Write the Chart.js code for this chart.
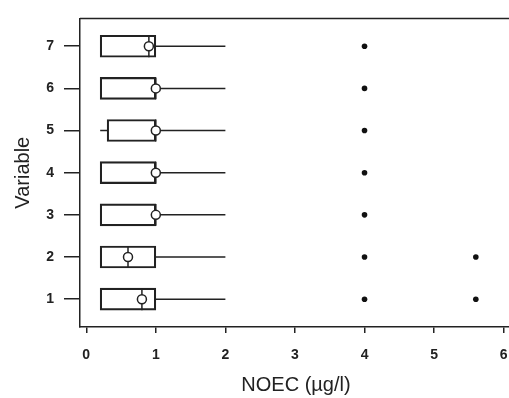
<!DOCTYPE html>
<html>
<head>
<meta charset="utf-8">
<script src="https://cdn.jsdelivr.net/npm/chart.js@4/dist/chart.umd.min.js"></script>
<style>
  html, body { margin: 0; padding: 0; background: #fff; overflow: hidden; }
  #wrap { position: absolute; left: 0; top: 0; width: 540px; height: 398px; }
</style>
</head>
<body>
<div id="wrap"><canvas id="box"></canvas></div>
<script>
// box plot values (NOEC, µg/l)
const variables = [1, 2, 3, 4, 5, 6, 7];
const whiskerLow = [0.2, 0.2, 0.2, 0.2, 0.2, 0.2, 0.2];
const q1 = [0.2, 0.2, 0.2, 0.2, 0.3, 0.2, 0.2];
const median = [0.8, 0.6, 1, 1, 1, 1, 0.9];
const q3 = [1, 1, 1, 1, 1, 1, 1];
const whiskerHigh = [2, 2, 2, 2, 2, 2, 2];
const outliers = [[4, 5.6], [4, 5.6], [4], [4], [4], [4], [4]];
const xTicks = [0, 1, 2, 3, 4, 5, 6];

const ink = '#222';
const half = 0.26; // half box height, in variable units

const whiskerPts = [];
const medianPts = [];
const outlierPts = [];
variables.forEach((v, i) => {
  whiskerPts.push({x: q3[i], y: v}, {x: whiskerHigh[i], y: v}, {x: null, y: null});
  if (whiskerLow[i] < q1[i]) {
    whiskerPts.push({x: whiskerLow[i], y: v}, {x: q1[i], y: v}, {x: null, y: null});
  }
  medianPts.push({x: median[i], y: v - half}, {x: median[i], y: v + half}, {x: null, y: null});
  outliers[i].forEach(o => outlierPts.push({x: o, y: v}));
});

const frameTop = {
  id: 'frameTop',
  afterDraw(chart) {
    const {ctx, chartArea} = chart;
    ctx.save();
    ctx.strokeStyle = ink;
    ctx.lineWidth = 1.5;
    ctx.beginPath();
    ctx.moveTo(chartArea.left, chartArea.top);
    ctx.lineTo(chartArea.right, chartArea.top);
    ctx.stroke();
    ctx.restore();
  }
};

new Chart(document.getElementById('box'), {
  type: 'line',
  data: {
    datasets: [
      {
        type: 'bar',
        indexAxis: 'y',
        data: variables.map((v, i) => ({x: [q1[i], q3[i]], y: v})),
        backgroundColor: 'rgba(255,255,255,0)',
        borderColor: ink,
        borderWidth: 1.5,
        borderSkipped: false,
        barThickness: 22,
        order: 3
      },
      {
        type: 'line',
        data: whiskerPts,
        borderColor: ink,
        borderWidth: 1.5,
        pointRadius: 0,
        spanGaps: false,
        order: 2
      },
      {
        type: 'line',
        data: medianPts,
        borderColor: ink,
        borderWidth: 1.5,
        pointRadius: 0,
        spanGaps: false,
        order: 2
      },
      {
        type: 'scatter',
        data: variables.map((v, i) => ({x: median[i], y: v})),
        pointRadius: 4.5,
        pointBackgroundColor: '#fff',
        pointBorderColor: ink,
        pointBorderWidth: 1.5,
        order: 1
      },
      {
        type: 'scatter',
        data: outlierPts,
        pointRadius: 2.8,
        pointBackgroundColor: '#111',
        pointBorderColor: '#111',
        pointBorderWidth: 0,
        order: 1
      }
    ]
  },
  options: {
    responsive: true,
    maintainAspectRatio: false,
    animation: false,
    layout: { padding: { left: 0, top: 17, right: 28, bottom: 0 } },
    plugins: { legend: { display: false }, tooltip: { enabled: false } },
    scales: {
      x: {
        type: 'linear',
        min: -0.09,
        max: 6.12,
        offset: false,
        afterBuildTicks: axis => { axis.ticks = xTicks.map(v => ({value: v})); },
        afterFit: axis => { axis.height = 71; },
        grid: { display: true, offset: false, drawOnChartArea: false, tickLength: 6, color: ink, lineWidth: 1.5 },
        border: { display: true, color: ink, width: 1.5 },
        ticks: { color: ink, padding: 14, font: { family: 'Liberation Sans, Arial', size: 14, weight: 'bold' } },
        title: {
          display: true,
          text: 'NOEC (µg/l)',
          color: ink,
          padding: { top: 0, bottom: 1 },
          font: { family: 'Liberation Sans, Arial', size: 20 }
        }
      },
      y: {
        type: 'linear',
        min: 0.34,
        max: 7.66,
        offset: false,
        afterBuildTicks: axis => { axis.ticks = variables.map(v => ({value: v})); },
        afterFit: axis => { axis.width = 80; },
        grid: { display: true, offset: false, drawOnChartArea: false, tickLength: 16, color: ink, lineWidth: 1.5 },
        border: { display: true, color: ink, width: 1.5 },
        ticks: { color: ink, padding: 10, font: { family: 'Liberation Sans, Arial', size: 14, weight: 'bold' } },
        title: {
          display: true,
          text: 'Variable',
          color: ink,
          padding: { top: 11, bottom: 0 },
          font: { family: 'Liberation Sans, Arial', size: 20 }
        }
      }
    }
  },
  plugins: [frameTop]
});
</script>
</body>
</html>
